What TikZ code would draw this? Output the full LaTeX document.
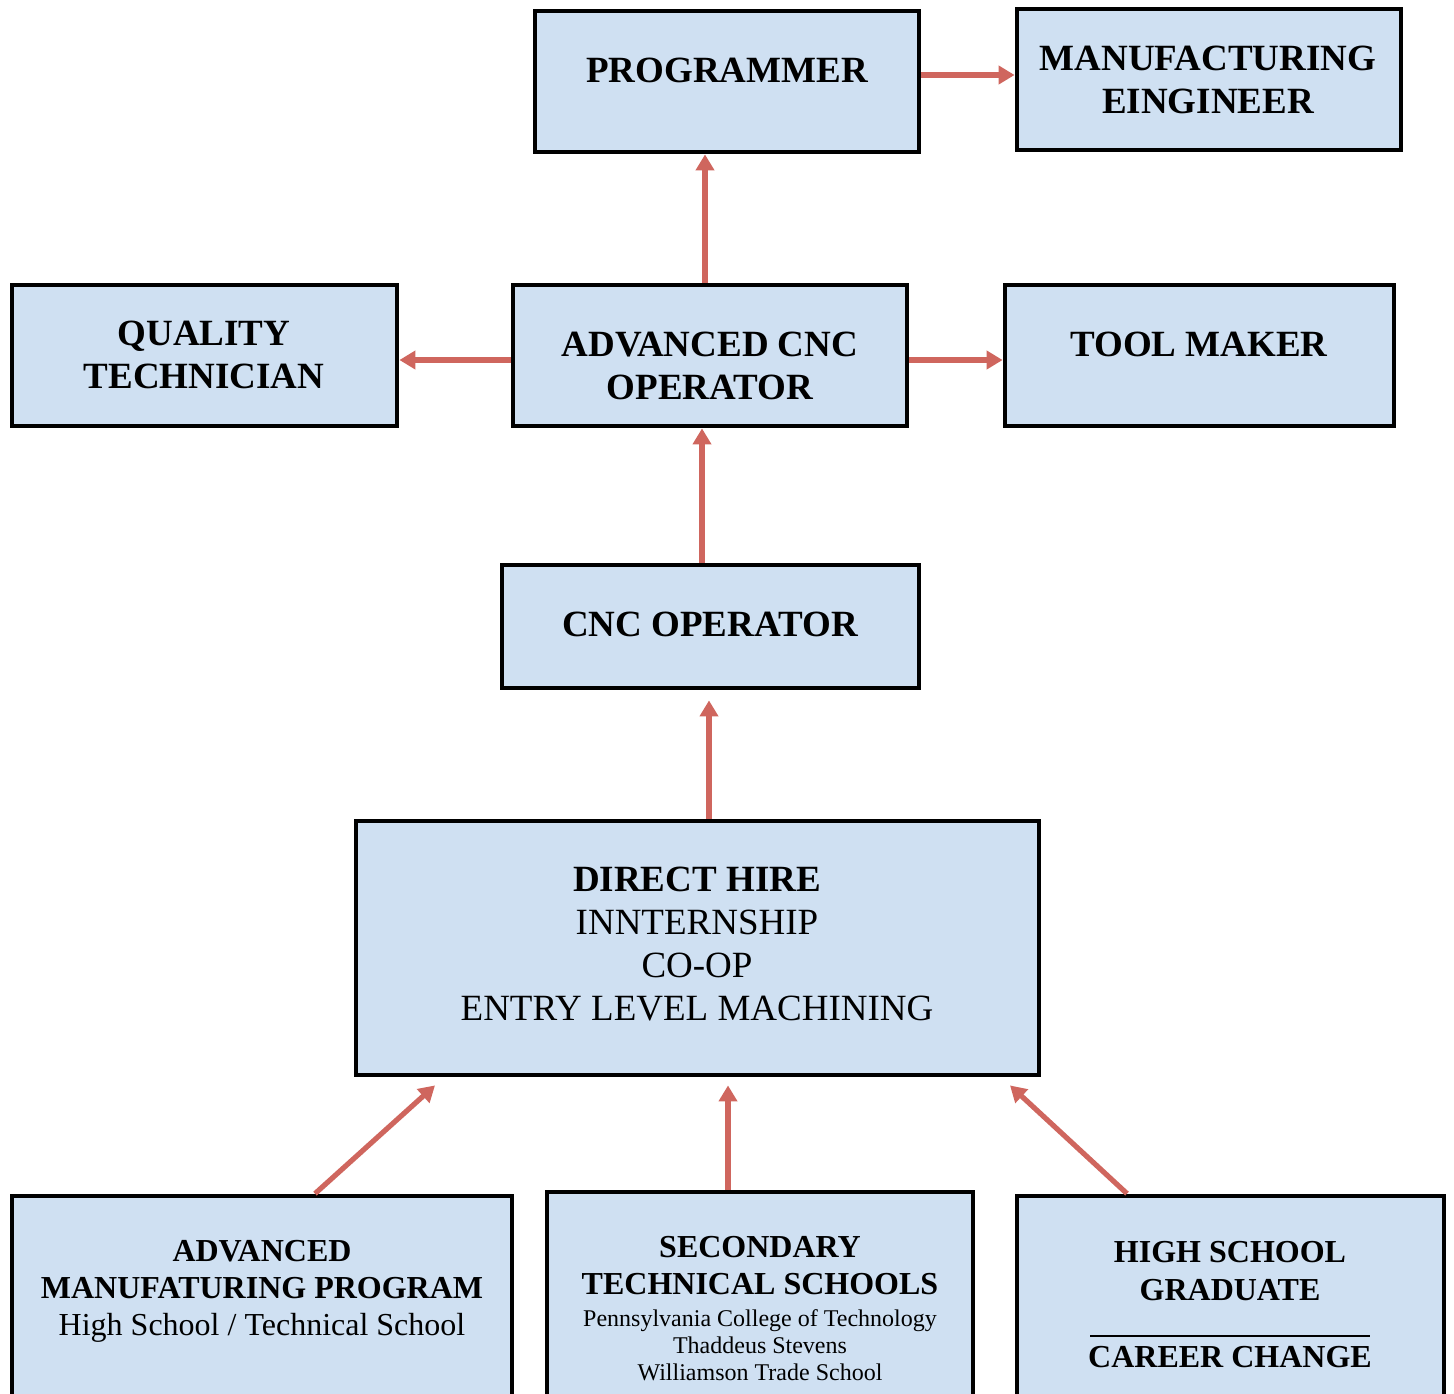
\documentclass[tikz,border=0pt]{standalone}
\usepackage{fontspec}
\setmainfont{Liberation Serif}
\usetikzlibrary{arrows.meta,calc}
\definecolor{boxblue}{RGB}{207,224,242}
\definecolor{arrred}{RGB}{207,102,94}
\newcommand\dgBig{\fontsize{18.5}{21.5}\selectfont\bfseries}
\newcommand\dgReg{\fontsize{18.5}{21.5}\selectfont}
\newcommand\dgMid{\fontsize{16}{18.5}\selectfont}
\newcommand\dgSmall{\fontsize{12}{13.5}\selectfont}
\begin{document}
\begin{tikzpicture}[x=0.5pt,y=-0.5pt,
  box/.style={draw=black, line width=2.4pt, fill=boxblue, inner sep=0pt},
  lbl/.style={align=center, inner sep=0pt, text=black},
  arr/.style={draw=arrred, line width=2.6pt, -{Triangle[length=8pt,width=9pt]}}]
\useasboundingbox (0,0) rectangle (1454,1393);
\clip (0,0) rectangle (1454,1393);

% boxes
\node[box,minimum width=192pt,minimum height=70.5pt] (prog) at (727,81.5) {};
\node[box,minimum width=192pt,minimum height=70.5pt] (mfg) at (1209,79.5) {};
\node[box,minimum width=192.5pt,minimum height=70.5pt] (qt) at (204.5,355.5) {};
\node[box,minimum width=197pt,minimum height=70.5pt] (aco) at (710,355.5) {};
\node[box,minimum width=194.5pt,minimum height=70.5pt] (tm) at (1199.5,355.5) {};
\node[box,minimum width=208.5pt,minimum height=61.5pt] (cnc) at (710.5,626.5) {};
\node[box,minimum width=341.5pt,minimum height=127pt] (dh) at (697.5,948) {};
\node[box,minimum width=250pt,minimum height=112pt] (amp) at (262,1308) {};
\node[box,minimum width=213pt,minimum height=114pt] (sts) at (760,1306) {};
\node[box,minimum width=213.5pt,minimum height=112pt] (hsg) at (1230.5,1308) {};

% texts
\node[lbl,font=\dgBig] (progt) at (727,70) {PROGRAMMER};
\node[lbl,font=\dgBig] (mfgt) at (1208,79.5) {MANUFACTURING\\EINGINEER};
\node[lbl,font=\dgBig] (qtt) at (204,354.5) {QUALITY\\TECHNICIAN};
\node[lbl,font=\dgBig] (acot) at (710,365.5) {ADVANCED CNC\\OPERATOR};
\node[lbl,font=\dgBig] (tmt) at (1199,344) {TOOL MAKER};
\node[lbl,font=\dgBig] (cnct) at (710,624) {CNC OPERATOR};
\node[lbl,font=\dgReg] (dht) at (697,944.5) {\textbf{DIRECT HIRE}\\INNTERNSHIP\\CO-OP\\ENTRY LEVEL MACHINING};
\node[lbl,font=\dgMid] (ampt) at (262,1291) {\textbf{ADVANCED}\\\textbf{MANUFATURING PROGRAM}\\High School / Technical School};
\node[lbl,font=\dgMid\bfseries] (stst) at (760,1266) {SECONDARY\\TECHNICAL SCHOOLS};
\node[lbl,font=\dgSmall] (stss) at (760,1345) {Pennsylvania College of Technology\\Thaddeus Stevens\\Williamson Trade School};
\node[lbl,font=\dgMid\bfseries,align=center] (hsgt) at (1230,1271) {HIGH SCHOOL\\[0.5pt]GRADUATE};
\node[lbl] (hsgl) at (1230,1336) {\rule{140pt}{0.9pt}};
\node[lbl,font=\dgMid\bfseries] (hsgc) at (1230,1357) {CAREER CHANGE};

% connectors
\draw[arr] ($(prog.east)+(0,-6.5)$) -- ($(mfg.west)+(0,-4.5)$);
\draw[arr] ($(aco.north)+(-5,0)$) -- ($(prog.south)+(-22,0)$);
\draw[arr] ($(aco.west)+(0,4.5)$) -- ($(qt.east)+(0,4.5)$);
\draw[arr] ($(aco.east)+(0,4.5)$) -- ($(tm.west)+(0,4.5)$);
\draw[arr] ($(cnc.north)+(-8.5,0)$) -- ($(aco.south)+(-8,0)$);
\draw[arr] ($(dh.north)+(11.5,0)$) -- ($(cnc.south)+(-1.5,10)$);
\draw[arr] ($(amp.north)+(53,0)$) -- ($(dh.south)+(-262.5,8)$);
\draw[arr] ($(sts.north)+(-32,0)$) -- ($(dh.south)+(30.5,8)$);
\draw[arr] ($(hsg.north)+(-103.5,0)$) -- ($(dh.south)+(312.5,8)$);
\end{tikzpicture}
\end{document}
